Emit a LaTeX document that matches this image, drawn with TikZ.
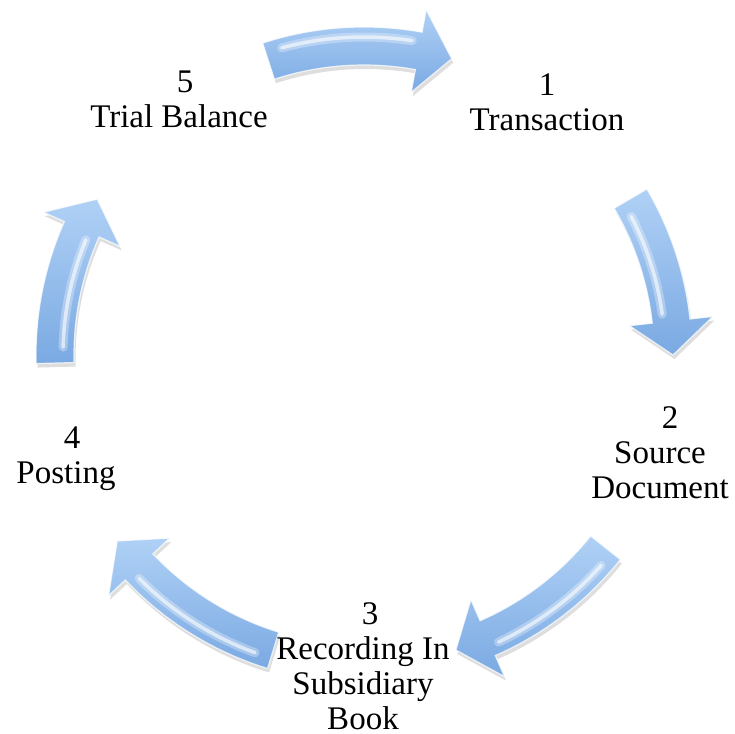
\documentclass[tikz,border=0pt]{standalone}
\usepackage{fontspec}
\setmainfont{Liberation Serif}
\usetikzlibrary{calc}
\definecolor{arrowblue}{HTML}{8DB9EA}
\definecolor{arrowlight}{HTML}{B0D1F6}
\definecolor{arrowdark}{HTML}{7AA9E2}
\tikzset{
  lbl/.style={align=center,inner sep=0pt,anchor=north,font=\fontsize{33}{35}\selectfont},
  arrowbody/.style={top color=arrowlight,bottom color=arrowdark,draw=white,draw opacity=0.75,line width=1.2pt,line join=miter},
  arrowshadow/.style={fill=black,opacity=0.13},
  streakwide/.style={white,opacity=0.3,line width=9pt,line cap=round},
  streak/.style={white,opacity=0.6,line width=3.5pt,line cap=round}
}
% #1 tail angle, #2 tip angle, #3 streak radius offset
\newcommand{\cycarrow}[3]{%
  \pgfmathsetmacro\ah{#2+6.3}%
  \pgfmathsetmacro\sa{#1-3}%
  \pgfmathsetmacro\sb{\ah+1.5}%
  \pgfmathsetmacro\sr{309+#3}%
  \begin{scope}[shift={(C)}]
    \path[arrowshadow,shift={(1.5pt,-4pt)}] (#1:328pt) arc[start angle=#1,end angle=\ah,radius=328pt]
      -- (\ah:351pt) -- (#2:309pt) -- (\ah:267pt) -- (\ah:290pt)
      arc[start angle=\ah,end angle=#1,radius=290pt] -- cycle;
    \path[arrowbody] (#1:328pt) arc[start angle=#1,end angle=\ah,radius=328pt]
      -- (\ah:351pt) -- (#2:309pt) -- (\ah:267pt) -- (\ah:290pt)
      arc[start angle=\ah,end angle=#1,radius=290pt] -- cycle;
    \draw[streakwide] (\sa:\sr pt) arc[start angle=\sa,end angle=\sb,radius=\sr pt];
    \draw[streak] (\sa:\sr pt) arc[start angle=\sa,end angle=\sb,radius=\sr pt];
  \end{scope}}
\begin{document}
\begin{tikzpicture}[x=1pt,y=1pt]
  \useasboundingbox (0,0) rectangle (735,733);
  \fill[white] (0,0) rectangle (735,733);
  \coordinate (C) at (364,378);
  \cycarrow{108}{73.5}{9}
  \cycarrow{30.4}{0}{-8}
  \cycarrow{-38.6}{-72.7}{8}
  \cycarrow{-107.1}{-143}{8}
  \cycarrow{181.5}{149.7}{-8}
  \node[lbl] (n1) at (547,659) {1\\Transaction};
  \node[lbl] (n2) at (660,327) {\hspace*{20pt}2\\Source\\Document};
  \node[lbl] (n3) at (363,131) {\hspace*{14pt}3\\Recording In\\Subsidiary\\Book};
  \node[lbl] (n4) at (66,306) {\hspace*{12pt}4\\Posting};
  \node[lbl] (n5) at (179,662) {\hspace*{12pt}5\\Trial Balance};
\end{tikzpicture}
\end{document}
